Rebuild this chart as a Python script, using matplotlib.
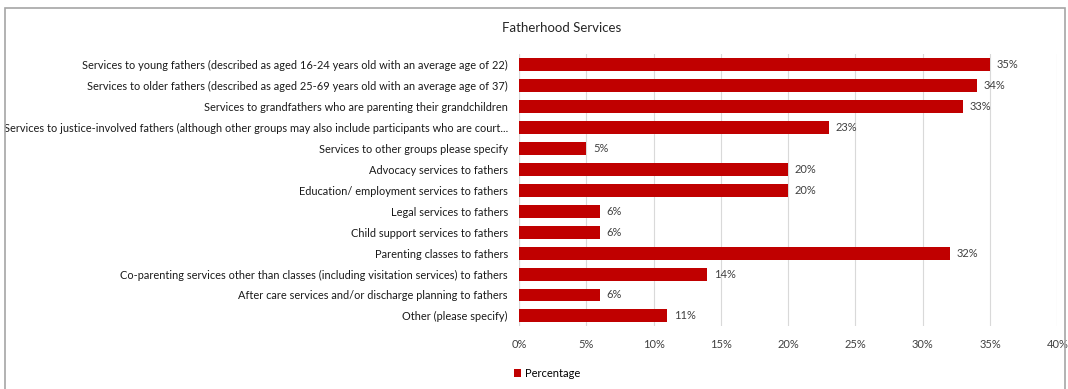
import numpy as np
import matplotlib
matplotlib.use("Agg")
from matplotlib import pyplot as plt
from matplotlib.patches import Rectangle
from matplotlib.ticker import PercentFormatter

categories = [
    "Services to young fathers (described as aged 16-24 years old with an average age of 22)",
    "Services to older fathers (described as aged 25-69 years old with an average age of 37)",
    "Services to grandfathers who are parenting their grandchildren",
    "Services to justice-involved fathers (although other groups may also include participants who are court...",
    "Services to other groups please specify",
    "Advocacy services to fathers",
    "Education/ employment services to fathers",
    "Legal services to fathers",
    "Child support services to fathers",
    "Parenting classes to fathers",
    "Co-parenting services other than classes (including visitation services) to fathers",
    "After care services and/or discharge planning to fathers",
    "Other (please specify)",
]
percentages = [35, 34, 33, 23, 5, 20, 20, 6, 6, 32, 14, 6, 11]

plt.rcParams['font.family'] = ['Lato', 'DejaVu Sans']

fig = plt.figure(figsize=(10.68, 3.89), dpi=100)
ax = fig.add_axes([0.486, 0.161, 0.504, 0.699])

y = np.arange(len(categories))
ax.barh(y, percentages, height=0.62, color='#C00000', label='Percentage', zorder=3)
for yi, v in zip(y, percentages):
    ax.text(v + 0.5, yi, f"{v}%", va='center', ha='left', fontsize=8, color='#404040')

ax.set_yticks(y)
ax.set_yticklabels(categories, fontsize=7.9, color='#1a1a1a')
ax.set_ylim(len(categories) - 0.5, -0.5)
ax.set_xlim(0, 40)
ax.set_xticks(np.arange(0, 41, 5))
ax.xaxis.set_major_formatter(PercentFormatter(decimals=0))
ax.tick_params(axis='x', labelsize=8, colors='#404040', length=0, pad=9)
ax.tick_params(axis='y', length=0, pad=8)
ax.grid(axis='x', color='#d9d9d9', linewidth=0.8, zorder=0)
for s in ax.spines.values():
    s.set_visible(False)
ax.axvline(0, color='#d9d9d9', linewidth=0.8, zorder=1)

fig.text(0.526, 0.928, "Fatherhood Services", ha='center', va='center', fontsize=9.5, color='#262626')
fig.legend(loc='center left', bbox_to_anchor=(0.472, 0.04), frameon=False, fontsize=8,
           handlelength=0.6, handleheight=0.6, handletextpad=0.4)

fig.add_artist(Rectangle((0.005, -0.01), 0.992, 0.99, transform=fig.transFigure,
                         fill=False, edgecolor='#a6a6a6', linewidth=1.2))

fig.savefig("out.png", dpi=100)
